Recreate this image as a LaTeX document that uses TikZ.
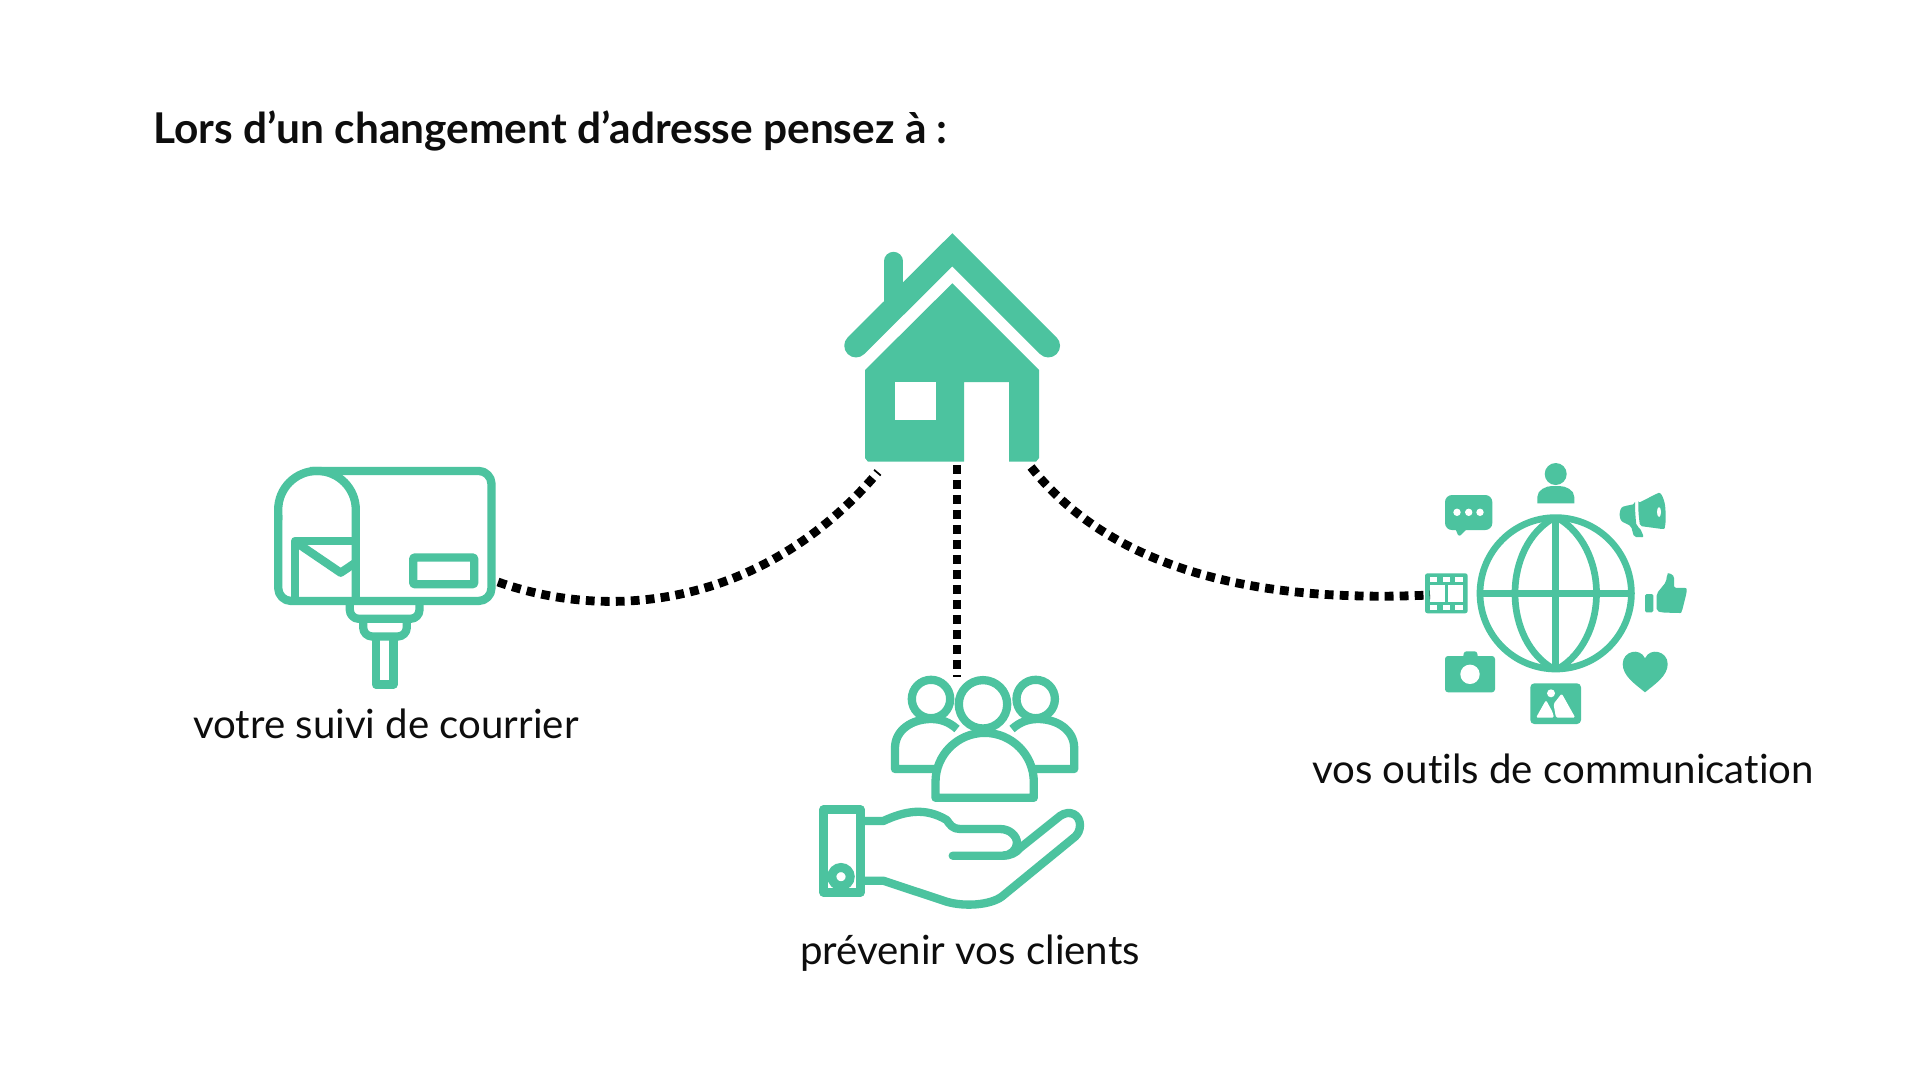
\documentclass[tikz,border=0pt]{standalone}
\usepackage{fontspec}
\setmainfont{Lato}[Ligatures=NoCommon]
\definecolor{gr}{HTML}{4CC39F}
\definecolor{ink}{HTML}{0D0D0D}
\tikzset{
 icon/.style={draw=gr,line width=8.3pt,line join=round,line cap=butt},
 fillg/.style={fill=gr,draw=none},
 hole/.style={fill=white,draw=none},
 dots/.style={draw=black,line width=8.8pt,dash pattern=on 8.8pt off 6.2pt},
 lab/.style={text=ink,font=\fontsize{40.2}{46}\selectfont,inner sep=0pt,anchor=base},
 ttl/.style={text=ink,font=\fontsize{42.4}{48}\selectfont\bfseries,inner sep=0pt,anchor=base west},
}
\begin{document}
\begin{tikzpicture}[x=1pt,y=-1pt]
\useasboundingbox (0,0) rectangle (1920,1080);
\fill[white] (0,0) rectangle (1920,1080);
\node[ttl] (title) at (153,143) {Lors d’un changement d’adresse pensez à :};
% house
\draw[gr,line width=18.4pt,line cap=round] (893.5,261) -- (893.5,308);
\draw[gr,line width=23.5pt,line cap=round,miter limit=10] (856,345.7) -- (952.3,249.8) -- (1048.3,345.7);
\fill[gr,rounded corners=0pt] (952.3,283.3) -- (1039,370) -- (1039,458) to[out=90,in=0,looseness=0] (1036,461.7) -- (1009,461.7) -- (1009,382) -- (964,382) -- (964,461.7) -- (868,461.7) -- (865,458) -- (865,370) -- cycle;
\fill[hole] (895.3,382) rectangle (936,420);
% mailbox
\draw[icon,rounded corners=13pt] (310,470.9) -- (491.5,470.9) -- (491.5,601) -- (278.2,601) -- (278.2,515);
\draw[icon] (278.2,520) -- (278.2,509.7) arc[start angle=180,end angle=360,radius=38.8] -- (355.8,601);
\draw[icon] (295.2,601) -- (295.2,540.8) -- (355.8,540.8);
\draw[icon] (297,543) -- (340.7,572.7) -- (355,563);
\draw[icon,rounded corners=1pt] (413.2,557.5) rectangle (474.2,584.2);
\draw[icon,rounded corners=9pt] (349.8,601) -- (349.8,618.8) -- (419.5,618.8) -- (419.5,601);
\draw[icon,rounded corners=9pt] (363.2,618.8) -- (363.2,636.5) -- (406.8,636.5) -- (406.8,618.8);
\draw[icon] (375.8,636.5) -- (375.8,684.5) -- (393.5,684.5) -- (393.5,636.5);
% people
\draw[icon] (931,699) circle[radius=19.2];
\draw[icon] (1035.7,699) circle[radius=19.2];
\draw[icon] (983,704.3) circle[radius=24.2];
\draw[icon] (937,769) -- (895,769) -- (895,748) .. controls (895,730) and (912,719) .. (931,719) .. controls (941,719) and (949,722) .. (957,729);
\draw[icon] (1032,769) -- (1074.2,769) -- (1074.2,748) .. controls (1074.2,730) and (1057,719) .. (1038,719) .. controls (1028,719) and (1020,722) .. (1012,729);
\draw[icon] (935.5,782) -- (935.5,797.8) -- (1033.8,797.8) -- (1033.8,782) arc[start angle=0,end angle=-180,radius=49.15] -- cycle;
% hand
\draw[icon] (823.5,809.5) rectangle (860.5,892.5);
\draw[gr,line width=9pt] (841,876.7) circle[radius=9.2];
\draw[icon,line cap=round] (860.5,821) -- (883.3,821) .. controls (905,811) and (925,807) .. (946.7,820) .. controls (950,825) and (953,829) .. (960,829) -- (1000,829) .. controls (1010,829) and (1017,836) .. (1017,843) .. controls (1017,850) and (1010,855.7) .. (1003,855.7) -- (952.7,855.7);
\draw[icon] (1003,855.7) .. controls (1010,855.7) and (1016,853) .. (1020,848) -- (1060,816) .. controls (1070,809) and (1080,815) .. (1080,825) .. controls (1080,830) and (1078,834) .. (1075,836.7) -- (1001.7,896.7) .. controls (990,905) and (965,907) .. (946.7,901.7) -- (883.3,880.7) -- (860.5,880.7);
% globe
\begin{scope}[gr,line width=6.7pt]
\draw (1555.7,593.3) circle[radius=75.7];
\draw (1555.7,517.6) -- (1555.7,669);
\draw (1480,593.3) -- (1631.4,593.3);
\draw (1552,519) .. controls (1530,532) and (1515,560) .. (1515,593.3) .. controls (1515,627) and (1530,655) .. (1552,668);
\draw (1559.4,519) .. controls (1581,532) and (1596.5,560) .. (1596.5,593.3) .. controls (1596.5,627) and (1581,655) .. (1559.4,668);
\end{scope}
% person
\fill[gr] (1555.7,474) circle[radius=11];
\fill[gr] (1537.3,503.3) -- (1537.3,497) .. controls (1537.3,490) and (1546,486) .. (1552,486) -- (1559,486) .. controls (1566,486) and (1574.3,490) .. (1574.3,497) -- (1574.3,503.3) -- cycle;
% speech
\fill[gr,rounded corners=7pt] (1445,495) rectangle (1492.3,530);
\fill[gr] (1455,528) -- (1458,535) -- (1460,535.7) -- (1468,528) -- cycle;
\foreach \px in {1457,1468.7,1480} \fill[white] (\px,512.3) circle[radius=3.7];
% megaphone
\fill[gr,rounded corners=2pt] (1638.5,503) -- (1657,493.5) .. controls (1661,492) and (1665,500) .. (1665.5,511) .. controls (1666,522) and (1665,529) .. (1662,529) -- (1640,526) .. controls (1639,518) and (1638,510) .. (1638.5,503) -- cycle;
\fill[white] (1659,512) ellipse[x radius=2,y radius=5];
\fill[gr,rounded corners=2pt] (1635,504) -- (1625,506) .. controls (1619,508) and (1618,520) .. (1625,523) -- (1631,526) -- (1634,537) -- (1644,537.3) -- (1640,528) -- (1636.5,526) .. controls (1635.5,518) and (1635,510) .. (1635,504) -- cycle;
% film
\fill[gr,rounded corners=2.5pt] (1425,573.3) rectangle (1467.7,613.3);
\foreach \px in {1430,1442.7,1455.3} {\fill[white] (\px,576.7) rectangle ++(7.3,5.3); \fill[white] (\px,605) rectangle ++(7.3,5.3);}
\fill[white] (1430,585) rectangle (1445,602);
\fill[white] (1448,585) rectangle (1463,602);
% thumb
\fill[gr,rounded corners=1.5pt] (1645,594) rectangle (1653.3,612.3);
\fill[gr,rounded corners=2pt] (1656.7,593.5) -- (1666,582) -- (1667,575) .. controls (1668,573) and (1674,574) .. (1674,580) -- (1674,587.7) -- (1684,588) .. controls (1687,588) and (1686.7,591) .. (1686.5,593) -- (1682,611) .. controls (1681,613) and (1680,613) .. (1678,613) -- (1662,612.5) -- (1656.7,611) -- cycle;
% heart
\fill[gr] (1645,692.3) .. controls (1635,684) and (1622.7,676) .. (1622.7,664) .. controls (1622.7,651) and (1640,647) .. (1645,658.3) .. controls (1650,647) and (1667.7,651) .. (1667.7,664) .. controls (1667.7,676) and (1655,684) .. (1645,692.3) -- cycle;
% camera
\fill[gr,rounded corners=3pt] (1445,656) rectangle (1495,692.3);
\fill[gr,rounded corners=2.5pt] (1462.7,660) -- (1464,651.3) -- (1477,651.3) -- (1478.3,660) -- cycle;
\fill[white] (1470,674.3) circle[radius=9.7];
% picture
\fill[gr,rounded corners=4pt] (1530.3,683.3) rectangle (1581,724);
\fill[white] (1551,693.3) circle[radius=4];
\fill[white,rounded corners=1.5pt] (1536,717.7) -- (1546,700) -- (1552.5,712) -- (1554,717.7) -- cycle;
\fill[white,rounded corners=1.5pt] (1556,717.7) -- (1553.5,704) -- (1561.7,693.5) -- (1575.3,717.7) -- cycle;
% labels
\node[lab] (mail) at (386,738) {votre suivi de courrier};
\node[lab] (clients) at (970,964) {prévenir vos clients};
\node[lab] (tools) at (1563,783) {vos outils de communication};
% connectors
\coordinate (hl) at (878,472);
\coordinate (hm) at (957,465);
\coordinate (hr) at (1031,467);
\coordinate (mb) at (498,582);
\coordinate (pp) at (957,677);
\coordinate (gl) at (1430,595);
\draw[dots] (mb) .. controls (620,625) and (770,600) .. (hl);
\draw[dots] (hm) -- (pp);
\draw[dots] (hr) .. controls (1120,580) and (1280,602) .. (gl);
\end{tikzpicture}
\end{document}
